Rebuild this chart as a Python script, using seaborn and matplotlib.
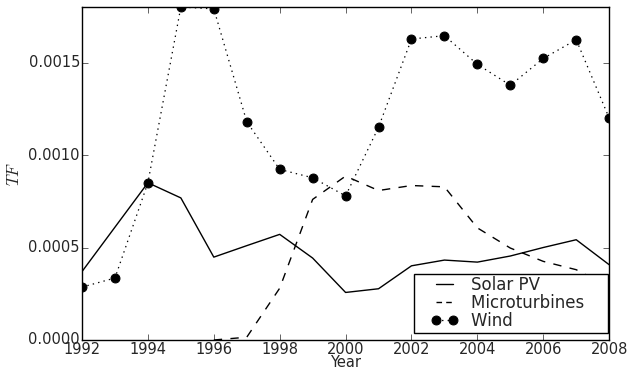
import numpy as np
import pandas as pd
import matplotlib
matplotlib.use("Agg")
import matplotlib.pyplot as plt
from matplotlib.legend_handler import HandlerLine2D
import seaborn as sns

# values
years = list(range(1992, 2009))
solar_pv = [0.00037, 0.00061, 0.00085, 0.000768, 0.000448, 0.00051, 0.000571,
            0.000443, 0.000257, 0.000277, 0.000401, 0.000432, 0.000421,
            0.000454, 0.0005, 0.000542, 0.000407]
microturbines = [np.nan, np.nan, np.nan, np.nan, 0.0, 0.000015, 0.00028,
                 0.00076, 0.000886, 0.000808, 0.000835, 0.000828, 0.000606,
                 0.000497, 0.000425, 0.00038, 0.000286]
wind = [0.000286, 0.000335, 0.00085, 0.0018, 0.00179, 0.00118, 0.000922,
        0.000877, 0.000779, 0.00115, 0.001627, 0.001645, 0.00149, 0.001377,
        0.001522, 0.001623, 0.0012]
x_ticks = list(range(1992, 2009, 2))
y_ticks = [0, 0.0005, 0.001, 0.0015]
y_tick_labels = ["0.0000", "0.0005", "0.0010", "0.0015"]

plt.style.use("classic")
sns.set_style("ticks", {"xtick.direction": "in", "ytick.direction": "in"})
plt.rcParams.update({
    "font.family": ["DejaVu Sans"],
    "font.size": 10,
    "mathtext.fontset": "cm",
    "figure.facecolor": "white",
    "savefig.facecolor": "white",
    "axes.linewidth": 1.0,
})

df = pd.DataFrame({"Year": years, "Solar PV": solar_pv,
                   "Microturbines": microturbines, "Wind": wind})

fig = plt.figure(figsize=(6.28, 3.69), dpi=100)
ax = fig.add_axes([0.1306, 0.0786, 0.8394, 0.9024])

pad = "    "  # trailing room inside the legend box, as in the original
sns.lineplot(data=df, x="Year", y="Solar PV", ax=ax, color="black",
             linestyle="-", linewidth=1.0, label="Solar PV" + pad)
sns.lineplot(data=df, x="Year", y="Microturbines", ax=ax, color="black",
             linestyle="--", linewidth=1.0, label="Microturbines" + pad)
sns.lineplot(data=df, x="Year", y="Wind", ax=ax, color="black",
             linestyle=":", linewidth=0.9, marker="o", markersize=6.4,
             markeredgecolor="black", label="Wind" + pad)

ax.set_xlim(1992, 2008)
ax.set_ylim(0, 0.0018)
ax.set_xticks(x_ticks)
ax.set_xticklabels([str(y) for y in x_ticks])
ax.set_yticks(y_ticks)
ax.set_yticklabels(y_tick_labels)
ax.tick_params(direction="in", top=True, right=True, length=4, pad=1.5,
               labelsize=10.5)
for s in ax.spines.values():
    s.set_visible(True)
    s.set_color("black")
ax.set_xlabel("Year", fontsize=10.5, labelpad=-1.5)
ax.set_ylabel(r"$TF$", fontsize=12, labelpad=4)

leg = ax.legend(loc="lower right", bbox_to_anchor=(0.997, 0.022),
                borderaxespad=0, fontsize=12, numpoints=2, handlelength=2.5,
                labelspacing=0.0, fancybox=False, frameon=True,
                borderpad=0.15, handletextpad=0.76,
                handler_map={plt.Line2D: HandlerLine2D(xpad=0.9)})
leg.get_frame().set_edgecolor("black")
leg.get_frame().set_linewidth(1.0)
# shorter dashes in the legend key so two dashes show, as in the original
leg.get_lines()[1].set_dashes([4, 3])

fig.savefig("out.png", dpi=100)
